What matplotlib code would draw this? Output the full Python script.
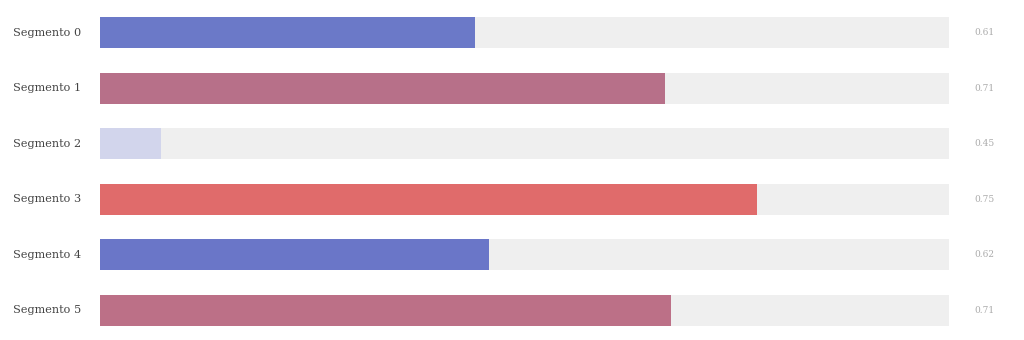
import matplotlib
matplotlib.use("Agg")
import matplotlib.pyplot as plt
import numpy as np

labels = ["Segmento 0", "Segmento 1", "Segmento 2", "Segmento 3", "Segmento 4", "Segmento 5"]
values = [0.610, 0.706, 0.451, 0.753, 0.617, 0.709]
colors = ["#6b79c8", "#b77089", "#d2d5ec", "#e06b6b", "#6a76c8", "#bc7087"]
x_min, x_max = 0.42, 0.85

plt.rcParams['font.family'] = ['DejaVu Serif']

fig = plt.figure(figsize=(10.24, 3.4), dpi=100)
ax = fig.add_axes([100 / 1024, 2 / 340, 849 / 1024, 333 / 340])

y = np.arange(len(labels))
h = 0.56
# background tracks
ax.barh(y, x_max - x_min, left=x_min, height=h, color="#efefef", zorder=1)
# value bars
ax.barh(y, np.array(values) - x_min, left=x_min, height=h, color=colors, zorder=2)

for i, (lab, v) in enumerate(zip(labels, values)):
    ax.text(-0.022, i, lab, transform=ax.get_yaxis_transform(), ha="right", va="center",
            fontsize=8.1, color="#444444")
    ax.text(1.03, i, f"{v:.2f}", transform=ax.get_yaxis_transform(), ha="left", va="center",
            fontsize=6.5, color="#aaaaaa")

ax.set_xlim(x_min, x_max)
ax.set_ylim(len(labels) - 0.5, -0.5)
ax.axis("off")

fig.savefig("out.png", dpi=100)
